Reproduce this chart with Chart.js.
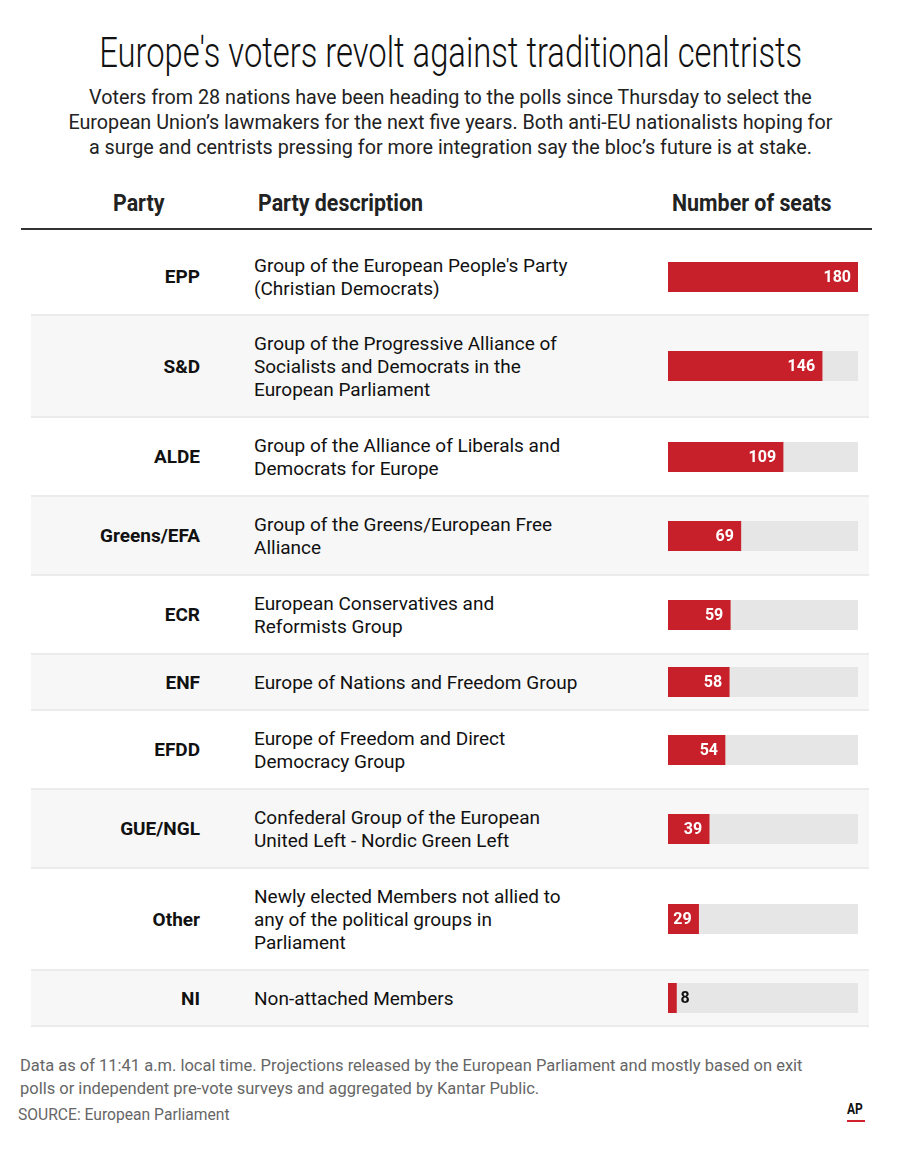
<!DOCTYPE html>
<html>
<head>
<meta charset="utf-8">
<script src="https://cdn.jsdelivr.net/npm/chart.js@4.4.1/dist/chart.umd.min.js"></script>
<style>
  body { margin: 0; background: #fff; font-family: Roboto, "Liberation Sans", sans-serif; color: #111; }
  #page { position: relative; width: 900px; height: 1150px; overflow: hidden; }
  .abs { position: absolute; white-space: nowrap; }
  .squeeze { display: inline-block; }
  #title { left: 0; width: 900px; top: 28px; text-align: center; font-size: 42px; font-weight: 300; line-height: 50px; }
  #subtitle { left: 0; width: 900px; top: 85px; text-align: center; font-size: 21px; line-height: 25px; color: #222; }
  .head { top: 190px; font-size: 23px; font-weight: 700; line-height: 28px; color: #222; }
  #headline { left: 21px; top: 228px; width: 851px; height: 2px; background: #333; }
  #table { left: 31px; top: 231px; width: 838px; }
  .row { display: flex; align-items: center; box-sizing: border-box; border-bottom: 2px solid #ebebeb; padding: 12px 0; }
  .row.alt { background: #f7f7f7; }
  .party { width: 169px; text-align: right; font-weight: 700; font-size: 19px; color: #111; }
  .desc { margin-left: 54px; width: 414px; padding: 3.5px 0; font-size: 19px; line-height: 23px; white-space: pre-line; color: #111; }
  .bar { width: 190px; height: 30px; }
  #note { left: 20px; top: 1054px; font-size: 17px; line-height: 23px; color: #666; }
  #source { left: 18px; top: 1104px; font-size: 17px; color: #666; }
  #ap { left: 847px; top: 1100px; font-size: 15px; font-weight: 700; color: #111; }
  #apline { left: 847px; top: 1120px; width: 18px; height: 2px; background: #d0202e; }
</style>
</head>
<body>
<div id="page">
  <div id="title" class="abs"><span class="squeeze" style="transform:scaleX(0.78)">Europe's voters revolt against traditional centrists</span></div>
  <div id="subtitle" class="abs"><span class="squeeze" style="transform:scaleX(0.94)">Voters from 28 nations have been heading to the polls since Thursday to select the<br>European Union’s lawmakers for the next five years. Both anti-EU nationalists hoping for<br>a surge and centrists pressing for more integration say the bloc’s future is at stake.</span></div>
  <div class="abs head" style="left:113px"><span class="squeeze" style="transform:scaleX(0.93);transform-origin:left">Party</span></div>
  <div class="abs head" style="left:258px"><span class="squeeze" style="transform:scaleX(0.93);transform-origin:left">Party description</span></div>
  <div class="abs head" style="left:672px"><span class="squeeze" style="transform:scaleX(0.93);transform-origin:left">Number of seats</span></div>
  <div id="headline" class="abs"></div>
  <div id="table" class="abs"></div>
  <div id="note" class="abs"><span class="squeeze" style="transform:scaleX(0.97);transform-origin:left">Data as of 11:41 a.m. local time. Projections released by the European Parliament and mostly based on exit<br>polls or independent pre-vote surveys and aggregated by Kantar Public.</span></div>
  <div id="source" class="abs"><span class="squeeze" style="transform:scaleX(0.92);transform-origin:left">SOURCE: European Parliament</span></div>
  <div id="ap" class="abs"><span class="squeeze" style="transform:scaleX(0.8);transform-origin:left">AP</span></div>
  <div id="apline" class="abs"></div>
</div>

<script>
// data
const parties = ["EPP", "S&D", "ALDE", "Greens/EFA", "ECR", "ENF", "EFDD", "GUE/NGL", "Other", "NI"]
const descriptions = [
    "Group of the European People's Party\n(Christian Democrats)",
    "Group of the Progressive Alliance of\nSocialists and Democrats in the\nEuropean Parliament",
    "Group of the Alliance of Liberals and\nDemocrats for Europe",
    "Group of the Greens/European Free\nAlliance",
    "European Conservatives and\nReformists Group",
    "Europe of Nations and Freedom Group",
    "Europe of Freedom and Direct\nDemocracy Group",
    "Confederal Group of the European\nUnited Left - Nordic Green Left",
    "Newly elected Members not allied to\nany of the political groups in\nParliament",
    "Non-attached Members"
]
const seats = [180, 146, 109, 69, 59, 58, 54, 39, 29, 8]
const SEAT_MAX = 180

const BAR_RED = "#c8202a"
const TRACK_GRAY = "#e6e6e6"

// writes the seat number at the end of the red bar
const valueLabels = {
    id: "valueLabels",
    afterDatasetsDraw(chart) {
        var ctx = chart.ctx
        var bar = chart.getDatasetMeta(0).data[0]
        var val = chart.data.datasets[0].data[0]
        ctx.save()
        ctx.font = "bold 16px Roboto, sans-serif"
        ctx.textBaseline = "middle"
        if (bar.x - bar.base > 30) {
            ctx.fillStyle = "#fff"
            ctx.textAlign = "right"
            ctx.fillText(val, bar.x - 7, bar.y + 1)
        } else {
            ctx.fillStyle = "#111"
            ctx.textAlign = "left"
            ctx.fillText(val, bar.x + 4, bar.y + 1)
        }
        ctx.restore()
    }
}

function buildRows() {
    var html = ""
    var ROW_HTML = "<div class='row ALT' style='EXTRA'><div class='party'>PARTY</div><div class='desc'>DESC</div><canvas class='bar' id='barIDX' width='190' height='30'></canvas></div>"
    for (var i = 0; i < parties.length; i ++) {
        // first row sits a little lower under the header rule
        var extra = i == 0 ? "padding-top:19px;padding-bottom:11px" : ""
        html += ROW_HTML.replace("ALT", i % 2 == 1 ? "alt" : "")
            .replace("EXTRA", extra)
            .replace("PARTY", parties[i].replace("&", "&amp;"))
            .replace("DESC", descriptions[i])
            .replace("IDX", i)
    }
    document.getElementById("table").innerHTML = html
}

function makeBar(i) {
    return new Chart(document.getElementById("bar" + i), {
        type: "bar",
        data: {
            labels: [parties[i]],
            datasets: [
                { data: [seats[i]], backgroundColor: BAR_RED, grouped: false, barPercentage: 1, categoryPercentage: 1 },
                { data: [SEAT_MAX], backgroundColor: TRACK_GRAY, grouped: false, barPercentage: 1, categoryPercentage: 1 }
            ]
        },
        options: {
            indexAxis: "y",
            responsive: false,
            animation: false,
            layout: { padding: 0 },
            plugins: { legend: { display: false }, tooltip: { enabled: false } },
            scales: {
                x: { min: 0, max: SEAT_MAX, display: false },
                y: { display: false }
            }
        },
        plugins: [valueLabels]
    })
}

buildRows()
for (var i = 0; i < parties.length; i ++) {
    makeBar(i)
}
</script>
</body>
</html>
